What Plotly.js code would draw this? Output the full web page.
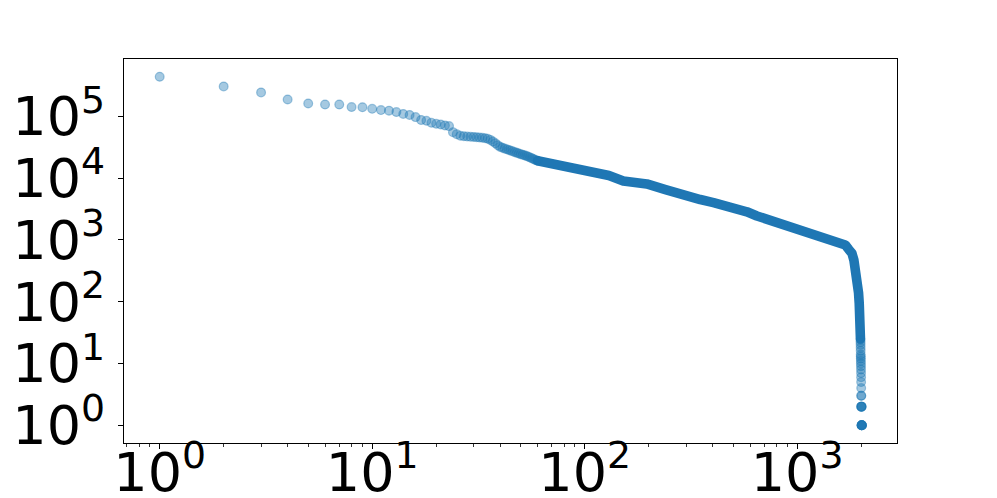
<!DOCTYPE html>
<html>
<head>
<meta charset="utf-8">
<script src="https://cdn.plot.ly/plotly-3.0.1.min.js"></script>
<style>
    html, body { margin: 0; padding: 0; background: #fff; }
    #plot { width: 997px; height: 498px; }
    /* dense part of the curve: round ends like overlapping markers */
    .js-line { stroke-linecap: round; stroke-linejoin: round; }
</style>
</head>
<body>
<div id="plot"></div>
<script>
// rank / frequency, head of the distribution (one point per rank)
const headRanks = [
    1, 2, 3, 4, 5, 6, 7, 8, 9, 10,
    11, 12, 13, 14, 15, 16, 17, 18, 19, 20,
    21, 22, 23, 24, 25, 26, 27, 28, 29, 30,
    31, 32, 33, 34, 35, 36, 37, 38, 39, 40,
    41, 42, 43, 44, 45, 46, 47, 48, 49, 50,
    51, 52, 53, 54, 55, 56, 57, 58, 59, 60
];
const headCounts = [
    436000, 304000, 243000, 187000, 161000, 155000, 155000, 141000, 140000, 132000,
    126000, 123000, 117000, 109000, 105000, 97000, 87000, 84500, 78500, 75600,
    73600, 71000, 69400, 55400, 51400, 48300, 47500, 47000, 46500, 46200,
    45800, 45300, 44800, 44200, 43200, 41500, 39000, 36500, 34000, 32000,
    31000, 30000, 29200, 28500, 27800, 27000, 26300, 25600, 25000, 24400,
    23900, 23400, 22900, 22400, 21800, 21200, 20600, 20000, 19500, 19100
];

// dense middle part, where the markers merge into one band
const bodyRanks = [
    60, 66, 74, 82, 95, 110, 130, 152, 175, 196,
    240, 292, 350, 404, 460, 520, 580, 647, 800, 998,
    1200, 1380, 1550, 1686, 1750, 1811, 1850, 1876, 1900, 1926,
    1945, 1960, 1972, 1981, 1986
];
const bodyCounts = [
    19100, 17800, 17000, 16400, 14800, 13100, 11000, 9000, 8400, 8050,
    6500, 5140, 4500, 4010, 3600, 3250, 2850, 2440, 1950, 1540,
    1250, 1060, 920, 827, 700, 607, 470, 368, 280, 198,
    140, 94, 60, 35, 25
];

// tail: the rarest items
const tailRanks = [
    1987, 1988, 1989, 1990, 1991, 1992, 1993, 1994, 1995, 1996,
    1997, 1998, 1999, 2000, 2001, 2002, 2003, 2004, 2005, 2006,
    2007, 2008, 2009, 2010, 2011, 2012, 2013, 2014, 2015, 2016, 2017
];
const tailCounts = [
    24, 22, 20, 18, 16, 14, 13, 12, 11, 10,
    9, 8, 7, 6, 5, 4, 3, 3, 2, 2,
    2, 2, 2, 1, 1, 1, 1, 1, 1, 1, 1
];

const xTickVals = [1, 10, 100, 1000];
const xTickText = ['10<sup>0</sup>', '10<sup>1</sup>', '10<sup>2</sup>', '10<sup>3</sup>'];
const xMinorVals = [0.7, 0.8, 0.9, 2, 3, 4, 5, 6, 7, 8, 9, 20, 30, 40, 50, 60, 70, 80, 90,
    200, 300, 400, 500, 600, 700, 800, 900, 2000];
const yTickVals = [1, 10, 100, 1000, 10000, 100000];
const yTickText = ['10<sup>0</sup>', '10<sup>1</sup>', '10<sup>2</sup>', '10<sup>3</sup>',
    '10<sup>4</sup>', '10<sup>5</sup>'];

const blue = 'rgb(31, 119, 180)';
const blueAlpha = 'rgba(31, 119, 180, 0.4)';

const markerStyle = {
    size: 8.8,
    color: blueAlpha,
    line: { color: blueAlpha, width: 1.2 }
};

const traces = [
    {
        x: bodyRanks,
        y: bodyCounts,
        mode: 'lines',
        line: { color: blue, width: 9.6 },
        hoverinfo: 'skip'
    },
    {
        x: headRanks,
        y: headCounts,
        mode: 'markers',
        marker: markerStyle
    },
    {
        x: tailRanks,
        y: tailCounts,
        mode: 'markers',
        marker: markerStyle
    }
];

const tickFont = { family: 'DejaVu Sans', size: 54, color: '#000' };

const axisCommon = {
    type: 'log',
    autorange: false,
    showgrid: false,
    zeroline: false,
    showline: true,
    mirror: true,
    linecolor: '#000',
    linewidth: 1.1,
    ticks: 'outside',
    ticklen: 5,
    tickwidth: 1.1,
    tickcolor: '#000',
    tickmode: 'array',
    tickfont: tickFont,
    automargin: false
};

const layout = {
    width: 997,
    height: 498,
    margin: { l: 124, r: 100, t: 59, b: 55 },
    paper_bgcolor: '#fff',
    plot_bgcolor: '#fff',
    showlegend: false,
    xaxis: Object.assign({}, axisCommon, {
        range: [-0.168, 3.470],
        tickvals: xTickVals,
        ticktext: xTickText,
        ticklabelstandoff: -23,
        minor: {
            tickmode: 'array',
            tickvals: xMinorVals,
            ticks: 'outside',
            ticklen: 3,
            tickwidth: 0.8,
            tickcolor: '#000',
            showgrid: false
        }
    }),
    yaxis: Object.assign({}, axisCommon, {
        range: [-0.287, 5.927],
        tickvals: yTickVals,
        ticktext: yTickText,
        ticklabelstandoff: 2
    })
};

Plotly.newPlot('plot', traces, layout, { displayModeBar: false, staticPlot: true });
</script>
</body>
</html>
